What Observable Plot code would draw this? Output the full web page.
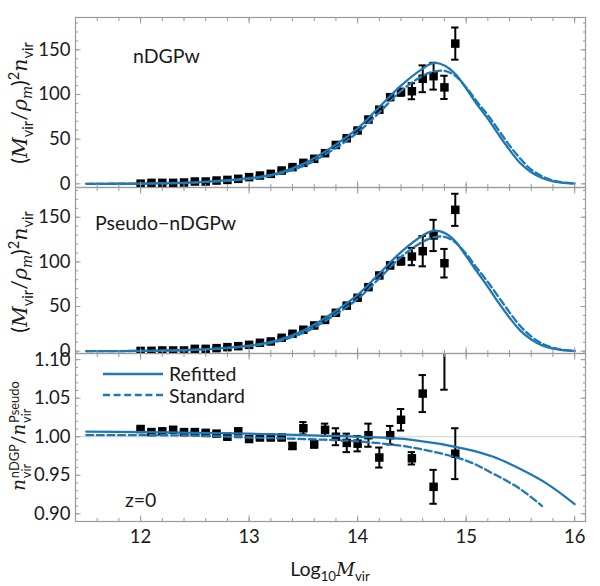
<!DOCTYPE html>
<html>
<head>
<meta charset="utf-8">
<script src="https://cdn.jsdelivr.net/npm/d3@7"></script>
<script src="https://cdn.jsdelivr.net/npm/@observablehq/plot@0.6"></script>
<style>
  body { margin: 0; background: #fff; font-family: Lato, "DejaVu Sans", sans-serif; }
  #fig { position: relative; width: 600px; height: 586px; overflow: hidden; background: #fff; }
  #fig > svg { position: absolute; left: 0; }
  #fig > svg.open { overflow: visible; }
  .lab { position: absolute; white-space: nowrap; color: #1a1a1a; font-size: 19.5px; line-height: 1; }
  .ylab { transform: translate(-50%, -50%) rotate(-90deg); font-size: 19px; }
  .ylab.big { font-size: 21.5px; }
  .lab sub, .lab sup { font-size: 68%; line-height: 0; }
  .lab i { font-family: "DejaVu Serif", serif; font-size: 95%; }
  .stack { display: inline-flex; flex-direction: column; font-size: 68%; line-height: 0.95; vertical-align: middle; margin-left: 1px; }
  .legend { position: absolute; left: 101px; top: 363px; font-size: 19.5px; color: #1a1a1a; line-height: 1; }
  .legend div { display: flex; align-items: center; height: 21.5px; }
  .legend svg { display: block; margin-right: 6px; }
</style>
</head>
<body>
<div id="fig"></div>
<script>
// Halo mass bins (log10 M_vir) with measured points
const massBins = [12.0, 12.1, 12.2, 12.3, 12.4, 12.5, 12.6, 12.7, 12.8, 12.9,
                  13.0, 13.1, 13.2, 13.3, 13.4, 13.5, 13.6, 13.7, 13.8, 13.9,
                  14.0, 14.1, 14.2, 14.3, 14.4, 14.5, 14.6, 14.7, 14.8, 14.9];

// nDGPw: (M/rho_m)^2 n_vir
const nDGPwValues = [0.2, 1.1, 1.1, 1.1, 1.5, 2.6, 2.6, 3.7, 4.4, 5.6,
                     7.5, 9.3, 11.2, 14.9, 18.7, 23.5, 28, 34.3, 43.5, 51,
                     59.7, 72, 83, 97, 102.6, 103.7, 117.6, 120.5, 108, 157];
const nDGPwErrors = [0.2, 0.2, 0.2, 0.2, 0.3, 0.3, 0.3, 0.4, 0.4, 0.5,
                     0.5, 0.6, 0.7, 0.8, 0.9, 1.0, 1.1, 1.3, 1.5, 1.7,
                     2.0, 2.3, 2.6, 3.0, 4.0, 9.0, 15, 15, 13, 18];

// Pseudo-nDGPw: (M/rho_m)^2 n_vir
const pseudoValues = [0.3, 0.4, 0.8, 0.8, 0.8, 2.6, 2.6, 3.4, 4.5, 5.6,
                      7.1, 9.4, 10.9, 15, 19.5, 24, 28.8, 35, 43, 51,
                      59.8, 71.7, 84.8, 96, 100.8, 106, 112, 129.6, 98.5, 158.3];
const pseudoErrors = [0.2, 0.2, 0.2, 0.2, 0.3, 0.3, 0.3, 0.4, 0.4, 0.5,
                      0.5, 0.6, 0.7, 0.8, 0.9, 1.0, 1.1, 1.3, 1.5, 1.7,
                      2.0, 2.3, 2.6, 3.0, 4.0, 9.7, 17, 17.5, 16, 18];

// Ratio n_vir^nDGP / n_vir^Pseudo
const ratioValues = [1.010, 1.006, 1.007, 1.009, 1.006, 1.006, 1.005, 1.004, 1.000, 1.007,
                     0.997, 0.999, 0.999, 0.999, 0.988, 1.011, 0.990, 1.009, 1.000, 0.992,
                     0.991, 1.002, 0.973, 1.002, 1.022, 0.972, 1.056, 0.935, 1.115, 0.978];
const ratioErrors = [0.002, 0.002, 0.002, 0.002, 0.002, 0.002, 0.002, 0.003, 0.003, 0.003,
                     0.003, 0.003, 0.003, 0.003, 0.004, 0.008, 0.004, 0.008, 0.011, 0.012,
                     0.010, 0.015, 0.013, 0.012, 0.014, 0.008, 0.024, 0.022, 0.054, 0.033];

// Model mass functions
const curveMass = [11.5, 12.0, 12.5, 13.0, 13.25, 13.5, 13.75, 14.0, 14.2, 14.4, 14.6, 14.7, 14.8,
                   14.9, 15.0, 15.1, 15.2, 15.3, 15.4, 15.5, 15.6, 15.7, 15.8, 15.9, 16.0];
const nDGPwRefitted = [0, 0.3, 1.6, 6.3, 11.5, 22.5, 40, 62, 86, 110, 129, 135.3, 132.5,
                       123, 107, 89, 73, 55, 38, 23, 13, 6.5, 2.8, 1.0, 0.3];
const nDGPwStandard = [0, 0.3, 1.4, 5.6, 10.5, 20, 36.5, 57.5, 80, 104, 121, 125.5, 126.5,
                       121, 108, 92, 77, 60, 43, 28, 16, 8.5, 3.8, 1.4, 0.4];
const pseudoRefitted = [0, 0.3, 1.6, 6.3, 11.8, 23, 41, 63, 87, 111, 129.5, 135, 132.5,
                        123, 106.5, 89, 72, 54, 37.5, 23, 13, 6.5, 2.8, 1.0, 0.3];
const pseudoStandard = [0, 0.3, 1.4, 5.7, 10.7, 20.5, 37.5, 58.5, 81.5, 105.5, 122.5, 127.5, 128,
                        122, 109, 93, 77.5, 60.5, 43.5, 28, 16.5, 8.5, 3.8, 1.4, 0.4];

// Model ratios
const ratioRefitMass = [11.5, 12.0, 12.5, 13.0, 13.5, 14.0, 14.5, 15.0, 15.25, 15.5, 15.75, 16.0];
const ratioRefitted  = [1.0065, 1.006, 1.005, 1.004, 1.002, 1.000, 0.996, 0.984, 0.974, 0.958, 0.9385, 0.9126];
const ratioStdMass   = [11.5, 12.0, 12.5, 13.0, 13.5, 14.0, 14.5, 15.0, 15.25, 15.5, 15.7];
const ratioStandard  = [1.002, 1.002, 1.0015, 0.999, 0.997, 0.994, 0.986, 0.969, 0.952, 0.932, 0.910];

// Axis ticks
const xMajor = [12, 13, 14, 15, 16];
const xMinor = d3.range(11.4, 16.1, 0.2);
const nMajor = [0, 50, 100, 150];
const nMinor = d3.range(0, 190, 10);
const rMajor = [0.90, 0.95, 1.00, 1.05, 1.10];
const rMinor = d3.range(0.89, 1.11, 0.01);

const BLUE = "#1f77b4";
const FRAME = "#9a9a9a";
const FONT = "Lato, 'DejaVu Sans', sans-serif";

const rows = (ms, vs, es) => ms.map((m, i) => ({m, v: vs[i], e: es ? es[i] : 0}));

function panel({top, h, yDomain, yMajor, yMinor, yFormat, pts, refit, std, xLabels, ref, open}) {
  const mb = xLabels ? 60 : 1;
  const cap = 0.034;
  const bar = {stroke: "black", strokeWidth: 2, clip: true};
  const tickStyle = {stroke: FRAME, strokeWidth: 1};
  const svg = Plot.plot({
    width: 600,
    height: h + 1 + mb,
    marginLeft: 75,
    marginRight: 15,
    marginTop: 1,
    marginBottom: mb,
    x: {domain: [11.4, 16.1]},
    y: {domain: yDomain},
    style: {fontFamily: FONT, fontSize: "18.5px", color: "#1a1a1a", background: "transparent"},
    marks: [
      ref != null ? Plot.ruleY([ref], {stroke: "#cfcfcf", strokeWidth: 1.2}) : null,
      Plot.ruleX(pts, {x: "m", y1: d => d.v - d.e, y2: d => d.v + d.e, ...bar}),
      Plot.ruleY(pts, {y: d => d.v + d.e, x1: d => d.m - cap, x2: d => d.m + cap, ...bar}),
      Plot.ruleY(pts, {y: d => d.v - d.e, x1: d => d.m - cap, x2: d => d.m + cap, ...bar}),
      Plot.dot(pts, {x: "m", y: "v", symbol: "square", r: 4.8, fill: "black", stroke: null, clip: true}),
      Plot.line(refit, {x: "m", y: "v", stroke: BLUE, strokeWidth: 2.3, curve: "catmull-rom", clip: true}),
      Plot.line(std, {x: "m", y: "v", stroke: BLUE, strokeWidth: 2.3, strokeDasharray: "7,3.6", curve: "catmull-rom", clip: true}),
      // y axes: labelled major ticks on the left, minor ticks, mirrored on the right
      Plot.axisY(yMajor, {anchor: "left", tickSize: -5.5, tickPadding: 10.5, tickFormat: yFormat, label: null, ...tickStyle}),
      Plot.axisY(yMinor, {anchor: "left", tickSize: -3, fill: "none", label: null, ...tickStyle}),
      Plot.axisY(yMajor, {anchor: "right", tickSize: -5.5, fill: "none", label: null, ...tickStyle}),
      Plot.axisY(yMinor, {anchor: "right", tickSize: -3, fill: "none", label: null, ...tickStyle}),
      // x axes
      xLabels
        ? Plot.axisX(xMajor, {anchor: "bottom", tickSize: -5.5, tickPadding: 13.5, tickFormat: d => d, label: null, ...tickStyle})
        : Plot.axisX(xMajor, {anchor: "bottom", tickSize: -5.5, fill: "none", label: null, ...tickStyle}),
      Plot.axisX(xMinor, {anchor: "bottom", tickSize: -3, fill: "none", label: null, ...tickStyle}),
      Plot.axisX(xMajor, {anchor: "top", tickSize: -5.5, fill: "none", label: null, ...tickStyle}),
      Plot.axisX(xMinor, {anchor: "top", tickSize: -3, fill: "none", label: null, ...tickStyle}),
      Plot.frame({stroke: FRAME, strokeWidth: 1.2})
    ]
  });
  svg.style.top = (top - 1) + "px";
  if (open) svg.classList.add("open");
  return svg;
}

const fig = document.getElementById("fig");

// ratio panel first so the upper panels' tick labels sit above it
fig.append(panel({
  top: 353, h: 168, yDomain: [0.89, 1.108], yMajor: rMajor, yMinor: rMinor, yFormat: d3.format(".2f"),
  pts: rows(massBins, ratioValues, ratioErrors),
  refit: rows(ratioRefitMass, ratioRefitted), std: rows(ratioStdMass, ratioStandard),
  xLabels: true, ref: 1
}));

fig.append(panel({
  top: 187, h: 166, yDomain: [-2.6, 183.3], yMajor: nMajor, yMinor: nMinor, yFormat: d => d,
  pts: rows(massBins, pseudoValues, pseudoErrors),
  refit: rows(curveMass, pseudoRefitted), std: rows(curveMass, pseudoStandard), open: true
}));

fig.append(panel({
  top: 17, h: 170, yDomain: [-4.1, 186.2], yMajor: nMajor, yMinor: nMinor, yFormat: d => d,
  pts: rows(massBins, nDGPwValues, nDGPwErrors),
  refit: rows(curveMass, nDGPwRefitted), std: rows(curveMass, nDGPwStandard), open: true
}));

// Text annotations, axis titles and legend
function label(html, cls, x, y, extra = "") {
  const d = document.createElement("div");
  d.className = "lab " + cls;
  d.style.left = x + "px";
  d.style.top = y + "px";
  if (extra) d.style.cssText += extra;
  d.innerHTML = html;
  fig.append(d);
}

const massFnTitle = "(<i>M</i><sub>vir</sub>/<i>ρ</i><sub><i>m</i></sub>)<sup>2</sup><i>n</i><sub>vir</sub>";
label(massFnTitle, "ylab big", 20, 103);
label(massFnTitle, "ylab big", 20, 272);
label("<i>n</i><span class='stack'><span>nDGP</span><span>vir</span></span>/<i>n</i><span class='stack'><span>Pseudo</span><span>vir</span></span>", "ylab", 20, 436);
label("Log<sub>10</sub><i>M</i><sub>vir</sub>", "", 330, 569, "transform:translate(-50%,-50%);");

label("nDGPw", "", 133, 46);
label("Pseudo−nDGPw", "", 95, 213);
label("z=0", "", 125, 490);

const legend = document.createElement("div");
legend.className = "legend";
legend.innerHTML = `
  <div><svg width="62" height="6"><line x1="2" x2="62" y1="3" y2="3" stroke="${BLUE}" stroke-width="2.3"/></svg>Refitted</div>
  <div><svg width="62" height="6"><line x1="2" x2="62" y1="3" y2="3" stroke="${BLUE}" stroke-width="2.3" stroke-dasharray="7,3.6"/></svg>Standard</div>`;
fig.append(legend);
</script>
</body>
</html>
